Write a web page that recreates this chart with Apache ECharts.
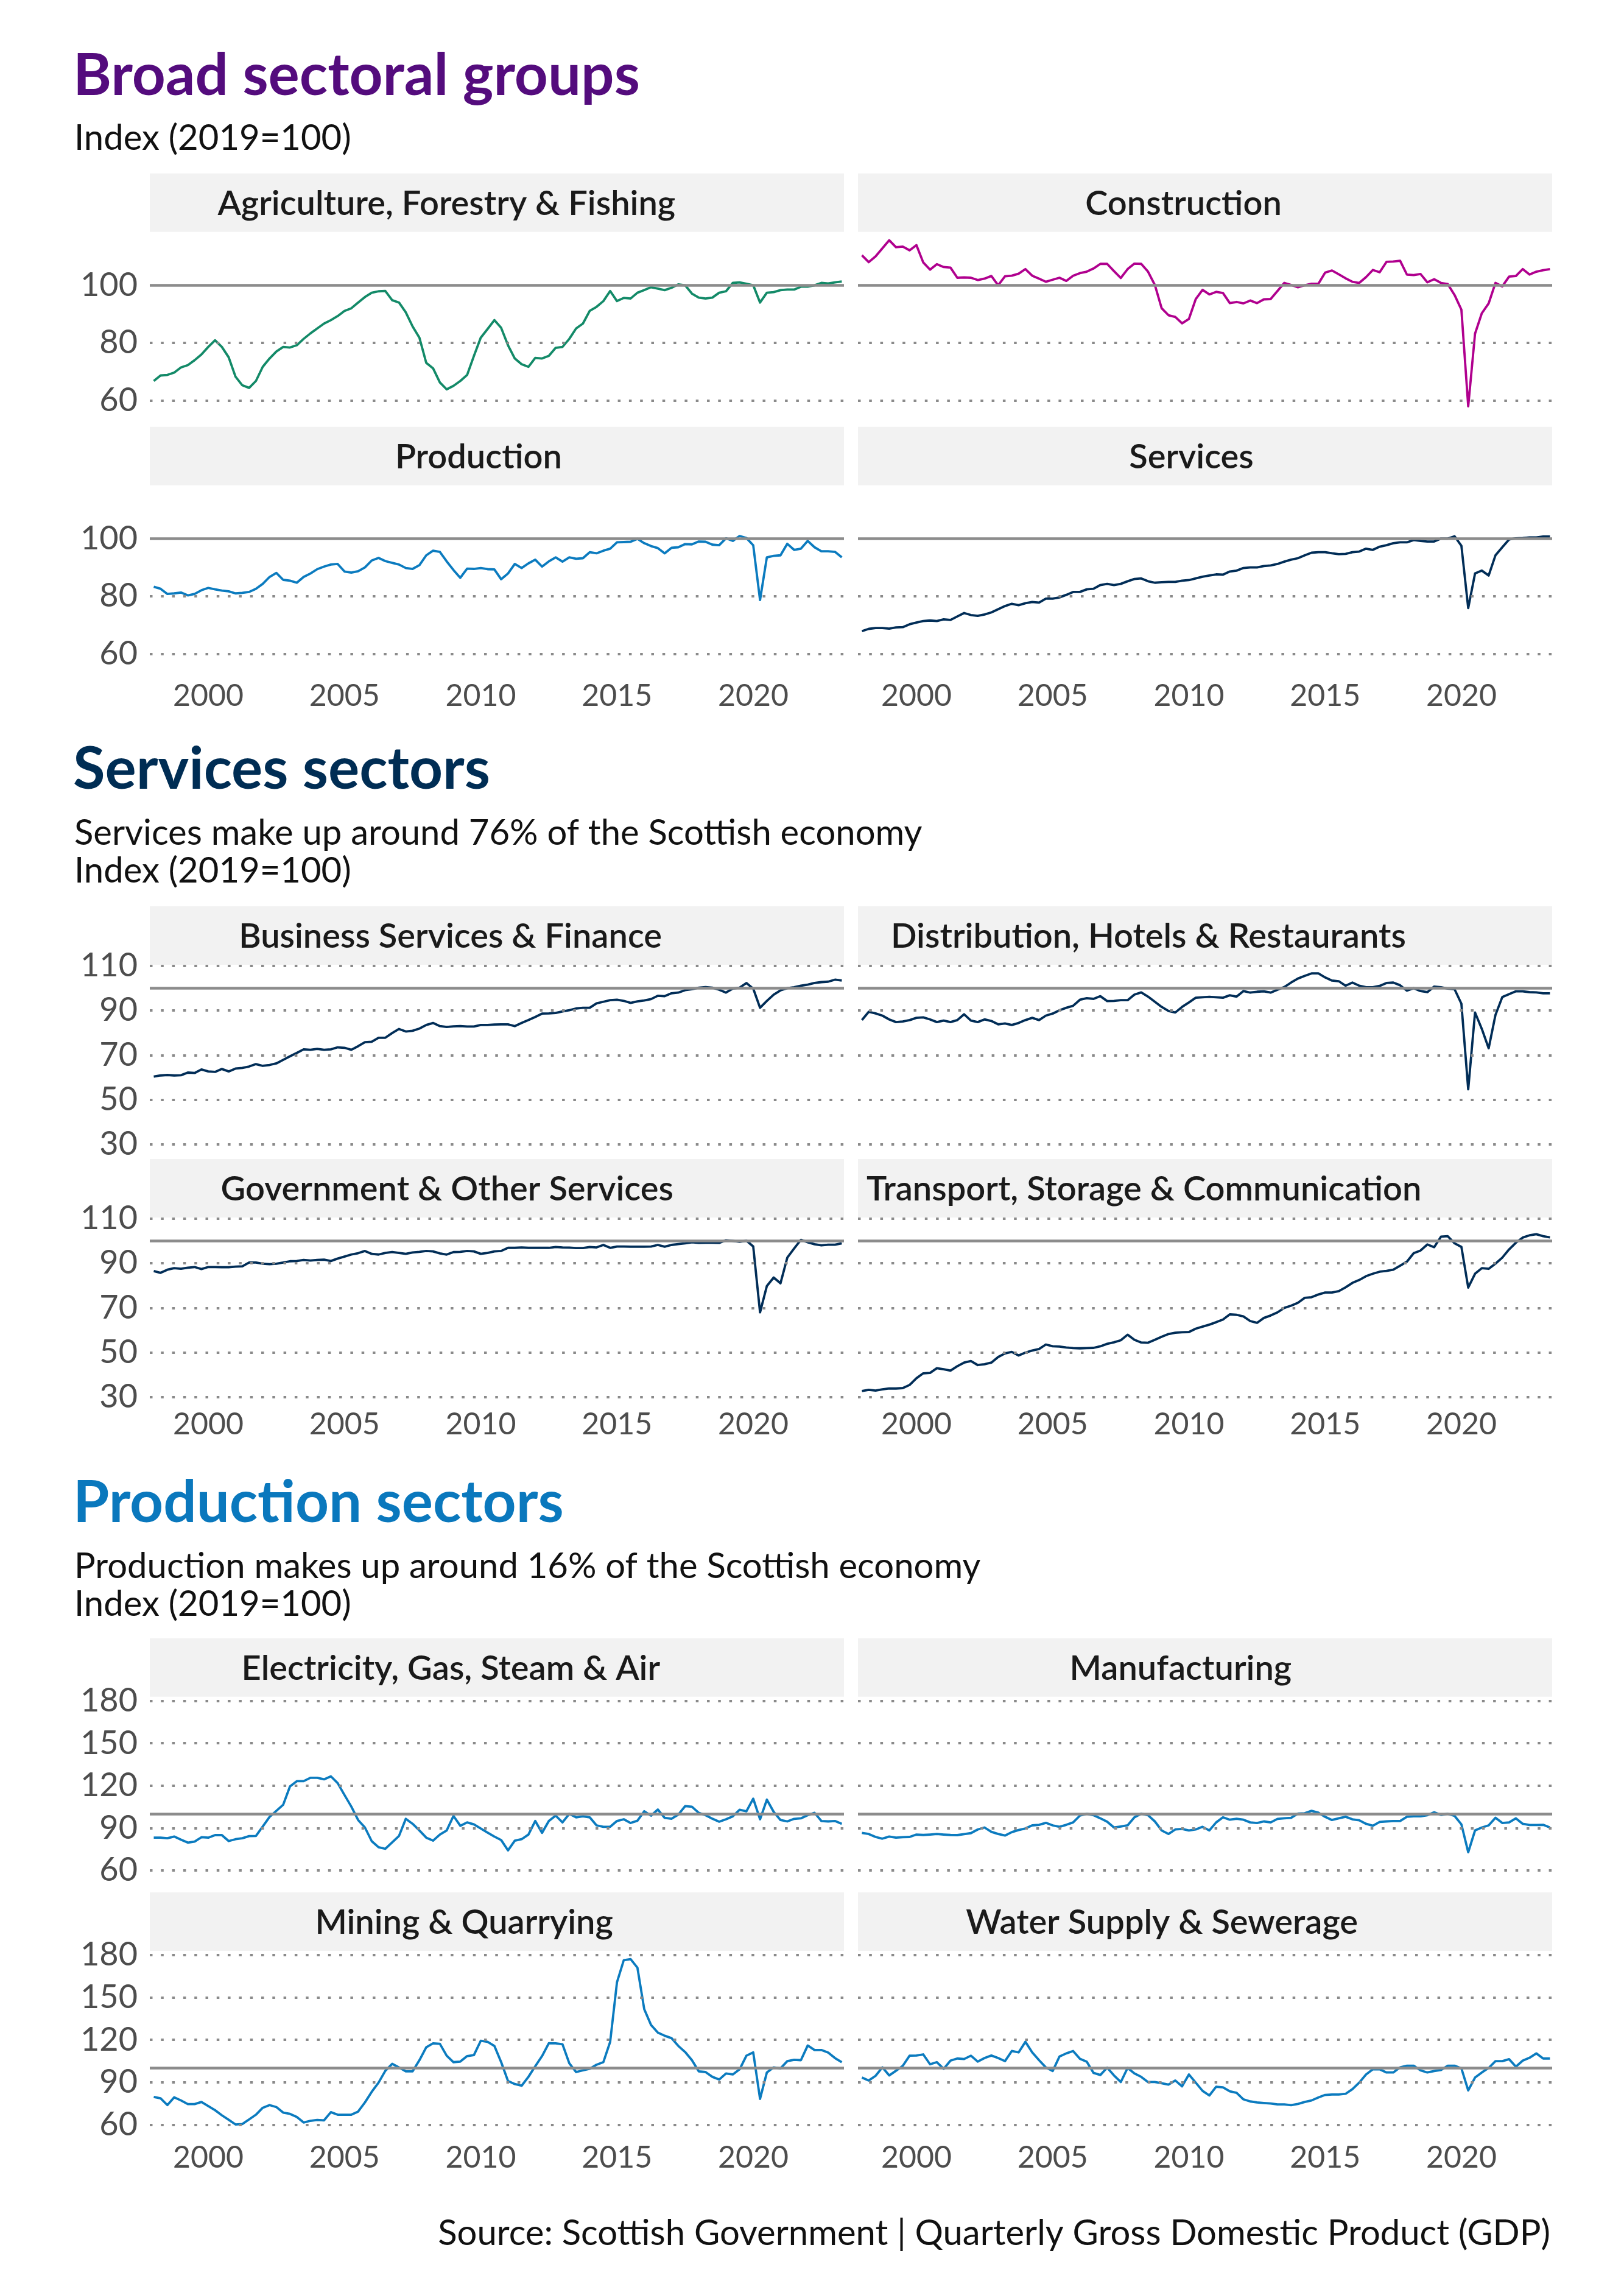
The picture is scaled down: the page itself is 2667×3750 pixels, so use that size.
<!DOCTYPE html>
<html><head><meta charset="utf-8">
<script src="https://cdn.jsdelivr.net/npm/echarts@6/dist/echarts.min.js"></script>
<style>html,body{margin:0;padding:0;background:#fff}#chart{width:2667px;height:3750px}</style>
</head><body><div id="chart"></div>
<script>
// ---------- DATA (quarterly, 1998 Q1 - 2023 Q2, index 2019=100) ----------
const startYear = 1998;
const nQuarters = 102;
const quarters = [];
for (let i = 0; i < nQuarters; i++) quarters.push(startYear + i / 4);
const yearTicks = [2000, 2005, 2010, 2015, 2020];

const agriculture = [66.8,68.7,68.9,69.7,71.5,72.3,74,76,78.6,80.9,78.6,75,68.3,65.3,64.4,66.8,71.7,74.6,77,78.6,78.4,79.2,81.4,83.3,85,86.7,87.9,89.3,91.1,92,94,95.9,97.4,97.9,98,94.8,94,90.6,85.7,81.8,73.1,71.2,66.3,63.9,65.1,66.8,68.9,75.5,81.8,84.8,87.9,85.2,79.2,74.6,72.6,71.7,74.8,74.6,75.5,78.3,78.6,81.4,85,86.7,91.1,92.5,94.5,98,94.5,95.6,95.4,97.4,98.3,99.3,98.8,98.3,99.1,100.3,100,97.1,95.7,95.4,95.7,97.4,97.9,100.8,101,100.5,100,94,97.4,97.6,98.3,98.5,98.5,99.5,99.5,100,100.8,100.6,101,101.3];
const construction = [110.4,108,110,112.8,115.6,113.2,113.4,112.1,113.9,107.9,105.4,107.3,106.3,106.1,102.6,102.7,102.6,101.8,102.3,103.2,100,103.1,103.3,104,105.6,103.3,102.3,101.2,101.9,102.6,101.5,103.3,104.2,104.7,105.8,107.4,107.4,104.9,102.5,105.6,107.5,107.4,104.7,100.1,92,89.6,89,86.8,88.3,95.2,98.4,96.8,97.7,97.3,93.8,94.2,93.7,94.7,93.8,95.1,95.2,98,100.8,100.1,99.3,100,100.5,100.5,104.4,105.1,103.8,102.4,101.2,100.8,102.8,105.3,104.5,108.1,108.2,108.5,103.7,103.5,103.9,101,102.1,100.8,100.4,96.6,91.5,58,83.2,90.3,93.7,100.8,99.6,103,103.2,105.6,103.7,104.7,105.2,105.6];
const production = [83.3,82.6,80.8,81,81.3,80.3,80.8,82.1,82.9,82.4,82,81.7,81,81.2,81.5,82.6,84.3,86.7,88.1,85.7,85.4,84.7,86.7,87.9,89.4,90.3,91,91.2,88.6,88.2,88.7,90,92.4,93.3,92.2,91.6,91,89.8,89.5,90.8,94.2,95.8,95.4,92.1,89.1,86.4,89.6,89.5,89.8,89.4,89.3,85.9,87.9,91.2,89.8,91.4,92.7,90.3,92.1,93.5,92,93.5,93,93.2,95.3,94.9,95.8,96.5,98.7,98.8,98.9,99.9,98.4,97.4,96.7,94.9,96.8,97,98.1,98,99,98.9,97.9,97.7,100.1,99.2,100.9,100.2,97.7,78.7,93.5,94,94.2,98.2,96.1,96.5,99.2,97,95.6,95.6,95.4,93.5];
const services = [67.9,68.7,69,69,68.8,69.2,69.3,70.3,70.9,71.4,71.6,71.4,72,71.8,73,74.2,73.5,73.2,73.7,74.4,75.5,76.6,77.4,76.9,77.6,78,77.8,79.2,79.2,79.6,80.5,81.5,81.5,82.4,82.6,83.9,84.3,83.9,84.3,85.2,86,86.2,85.2,84.7,84.9,85,85,85.4,85.6,86.2,86.8,87.2,87.6,87.5,88.6,88.9,89.8,90,90,90.5,90.7,91.2,92,92.7,93.2,94.2,95.1,95.3,95.3,94.9,94.6,94.7,95.3,95.5,96.5,96.1,97.2,97.7,98.4,98.7,98.7,99.5,99.2,99,99,100,100,100.8,97.5,75.9,87.9,88.9,87.2,94.2,97,99.7,100.1,100.2,100.4,100.4,100.7,100.7];
const businessServicesFinance = [60.4,60.9,61.1,60.9,61,62.2,62,63.6,62.7,62.5,63.8,62.7,64,64.3,64.9,66,65.2,65.6,66.3,67.9,69.5,71,72.6,72.4,72.8,72.4,72.6,73.5,73.3,72.4,74,75.8,76,77.8,77.8,79.9,81.7,80.6,80.9,81.9,83.5,84.4,83,82.6,82.9,83,82.8,82.8,83.5,83.5,83.7,83.8,83.8,83,84.4,85.7,87.1,88.6,88.7,88.9,89.6,90.1,90.9,91.2,91.2,93.2,93.9,94.6,94.8,94.3,93.4,94.1,94.5,95.1,96.6,96.4,97.7,98,99.1,99.5,100.2,100.5,100.2,99.3,98,99.8,100.2,102.3,99.8,91.2,94.3,97.1,99,100,100.4,101.1,101.6,102.3,102.7,102.9,103.8,103.4];
const distributionHotelsRestaurants = [85.7,89.4,88.7,87.7,86,84.8,85.1,85.7,86.7,86.9,86,84.8,85.5,84.8,85.7,88.3,85.5,84.8,86,85.3,83.8,84.2,83.5,84.4,85.7,86.7,85.7,87.7,88.6,90.1,91.2,92.1,94.8,95.5,95.2,96.4,94.2,94.3,94.6,94.6,97.1,98.1,96.2,93.9,91.6,89.8,89.1,91.6,93.6,95.7,95.9,96.1,95.9,95.7,96.8,96.2,98.7,98,98.4,98.6,98,99.3,100.5,102.5,104.3,105.5,106.6,106.6,104.8,103.4,103.1,101.1,102.5,101.1,100.4,100.4,101,102.3,102.5,101.3,98.9,100,98.7,98.2,100.7,100.4,99.8,99.5,93,54.7,89.1,81.7,73.1,88,96,97.3,98.6,98.6,98.2,98.1,97.7,97.7];
const governmentOtherServices = [86.5,85.7,87.1,87.8,87.5,88,88.3,87.4,88.3,88.3,88.2,88.2,88.5,88.6,90.3,90.3,89.8,89.6,89.8,90.3,90.9,91,91.5,91.2,91.5,91.6,91,92.1,93,93.9,94.5,95.5,94.2,93.9,94.6,95,94.6,94.2,94.8,95.1,95.5,95.3,94.4,93.9,95,95.1,95.5,95.3,94.2,94.6,95.3,95.5,96.9,96.9,97.1,96.9,96.9,96.9,96.9,97.3,97.1,97,96.8,96.8,97.3,97.1,98.2,96.9,97.5,97.5,97.4,97.4,97.4,97.5,98.2,97.4,98.2,98.6,98.9,99.4,99.1,99.2,99.2,99.1,100.3,100,99.6,100.1,97.5,68,79.8,83.6,81,92.5,96.6,100.5,99.4,98.5,98,98.3,98.3,98.9];
const transportStorageCommunication = [32.8,33.3,33,33.5,33.9,33.9,34.1,35.5,38.5,40.7,40.9,43,42.5,41.9,43.9,45.5,46.2,44.4,44.8,45.5,48,49.6,50.3,48.7,50,50.9,51.6,53.6,52.8,52.7,52.3,52,51.9,52,52.1,52.8,53.9,54.6,55.5,58,55.7,54.5,54.4,55.7,57.1,58.3,58.9,59.1,59.2,60.7,61.6,62.5,63.6,64.8,67.1,66.9,66.2,64.1,63.3,65.5,66.6,68,70,71,72.3,74.5,74.8,76,76.9,76.9,77.5,79.2,81.2,82.5,84.2,85.3,86.2,86.6,87.1,88.9,90.7,94.5,95.7,98.4,97.2,101.9,102.1,98.9,97.3,79.1,85.3,87.8,87.5,89.8,92.5,96.2,99.2,101.5,102.5,103,102.1,101.6];
const electricityGasSteamAir = [83.2,83.2,82.8,84,81.8,79.7,80.4,83.5,83.2,85,85,80.8,82.1,82.8,84.3,84.4,91.1,97.9,102.2,106.5,119.5,123.2,123.2,125.6,125.6,124.5,126.6,121.8,113.4,105.2,95.7,90.4,80.7,76.4,75.3,79.9,84.4,96.5,93,88.3,83.2,81.1,85.4,88.3,98.6,91.6,94,92.6,89.7,86.8,84,81.5,74.2,81.1,82.1,85.4,95,86.6,95,98.8,94,100.1,97.6,98.3,97.6,91.9,90.9,90.9,95,96.2,93.6,95.2,101.9,98.8,103.1,97.2,96.6,99.5,105.5,105.1,100.8,99.1,96.6,94.5,96.2,98.3,102.9,101.9,110.8,96.2,110.1,101.5,95.7,94.7,96.5,96.9,99.1,100.8,95,94.7,95,93];
const manufacturing = [86.6,85.8,83.7,82.5,84,83.2,83.5,83.7,85.4,85.1,85.4,85.8,85.4,85.1,85,85.7,86.4,89,90.4,87.3,85.8,84.7,87.1,88.6,89.7,91.9,92.3,93.7,91.9,90.9,92.3,94,98.8,100.1,99.1,96.9,94.5,90.4,91.1,91.9,97.6,100.2,99.1,94.7,88.3,85.8,89,89.4,88.3,89,90.9,88.3,94,97.6,95.9,96.6,95.9,94,93.6,94.7,94,96.5,96.9,97.2,100.2,100.5,102.2,100.9,97.9,95.7,96.9,98,96.2,95.5,93,91.6,94.3,94.7,95,95,98,98.3,98.3,99.1,101.2,99.3,100.1,98.6,92.6,72.9,88.3,90.4,91.9,97.3,93.6,94,96.9,93,92.2,92.2,92.3,90.4];
const miningQuarrying = [79.6,78.6,73.8,79.3,77.1,74.5,74.5,76,73.1,70.2,66.6,63.4,60.1,60.4,63.7,67,71.9,73.8,72.4,68.5,67.6,65.4,61.5,62.7,63.3,63,68.8,67,67,67,69.2,75.7,83.2,89.7,98.1,103,100.5,97.7,97.7,105.6,114.7,117.5,117.2,108.8,104.2,104.6,108.5,109.2,119.3,118.6,115.7,104.2,90.9,88.7,87.5,93.8,101.3,108.5,117.6,117.5,116.9,103.4,97.2,98.4,99.5,102.4,104.2,118.6,160.8,176.4,177.1,171.1,141.7,130.5,125.1,122.9,121.2,115.7,111.4,105.6,97.7,97.2,93.8,91.9,96.2,95.5,99.1,108.8,111.1,78.2,96.9,100.5,99.8,104.9,105.9,105.6,116,112.8,112.8,111,107.1,104.2];
const waterSupplySewerage = [93.3,91.2,94.5,100.5,94.8,98.1,101.6,108.8,108.9,109.7,102.7,104.2,99.5,105.3,106.8,106.4,108.8,104.6,107.1,108.9,107.1,104.9,112.1,111.1,118.6,111.1,105.6,100.5,97.9,108.2,110.4,112.1,106.6,104.5,96.6,95.1,100.3,94.8,90.1,100.1,96.2,93.8,90.1,90.1,89.3,88.3,91.2,87.1,95.5,89.7,83.9,80.6,86.8,86.4,83.6,82.5,77.9,76.4,75.7,75.3,74.9,74.3,74.3,73.8,74.6,76,77.1,79.2,81,81.3,81.3,81.8,85.1,89.7,95.5,99.1,99.1,96.9,96.9,100.5,101.7,101.7,98.4,96.9,97.9,98.7,101.7,101.7,99.8,84.2,93.3,96.9,100.1,104.9,104.9,106.3,101,105.3,107.3,110.4,106.8,106.8];

// ---------- LAYOUT / STYLE ----------
const FONT = 'Lato, "Noto Sans", sans-serif';
const GREEN = '#138a68', MAGENTA = '#b0008e', BLUE = '#0b7bbf', NAVY = '#012d57';
const COLS = [{x: 246, w: 1140}, {x: 1409, w: 1140}];
const X_MIN = 1997.855, X_MAX = 2023.33;
const STRIP_H = 96;
const STRIP_FONT = '600 56px ' + FONT;
const sections = [
  {title: 'Broad sectoral groups', titleColor: '#540c7d', titleY: 125, sub: ['Index (2019=100)'], subY: [227],
   tops: [380.7, 796.7], h: 305.4, min: 54, max: 118.5, labels: [60, 80, 100], grid: [60, 80]},
  {title: 'Services sectors', titleColor: '#002d54', titleY: 1264, sub: ['Services make up around 76% of the Scottish economy', 'Index (2019=100)'], subY: [1368, 1430],
   tops: [1583.9, 1998.9], h: 298.8, min: 29, max: 110.5, labels: [30, 50, 70, 90, 110], grid: [30, 50, 70, 90, 110]},
  {title: 'Production sectors', titleColor: '#0a78bd', titleY: 2468, sub: ['Production makes up around 16% of the Scottish economy', 'Index (2019=100)'], subY: [2572, 2634],
   tops: [2785.7, 3203], h: 299.2, min: 54, max: 183, labels: [60, 90, 120, 150, 180], grid: [60, 90, 120, 150, 180]}
];
const panels = [
  {s: 0, r: 0, c: 0, name: 'Agriculture, Forestry & Fishing', data: agriculture, color: GREEN},
  {s: 0, r: 0, c: 1, name: 'Construction', data: construction, color: MAGENTA},
  {s: 0, r: 1, c: 0, name: 'Production', data: production, color: BLUE},
  {s: 0, r: 1, c: 1, name: 'Services', data: services, color: NAVY},
  {s: 1, r: 0, c: 0, name: 'Business Services & Finance', data: businessServicesFinance, color: NAVY},
  {s: 1, r: 0, c: 1, name: 'Distribution, Hotels & Restaurants', data: distributionHotelsRestaurants, color: NAVY},
  {s: 1, r: 1, c: 0, name: 'Government & Other Services', data: governmentOtherServices, color: NAVY},
  {s: 1, r: 1, c: 1, name: 'Transport, Storage & Communication', data: transportStorageCommunication, color: NAVY},
  {s: 2, r: 0, c: 0, name: 'Electricity, Gas, Steam & Air', data: electricityGasSteamAir, color: BLUE},
  {s: 2, r: 0, c: 1, name: 'Manufacturing', data: manufacturing, color: BLUE},
  {s: 2, r: 1, c: 0, name: 'Mining & Quarrying', data: miningQuarrying, color: BLUE},
  {s: 2, r: 1, c: 1, name: 'Water Supply & Sewerage', data: waterSupplySewerage, color: BLUE}
];

const measureCtx = document.createElement('canvas').getContext('2d');
measureCtx.font = STRIP_FONT;

const grids = [], xAxes = [], yAxes = [], series = [], graphics = [];

sections.forEach(sec => {
  graphics.push({type: 'text', x: 120, y: sec.titleY, silent: true,
    style: {text: sec.title, font: 'bold 96px ' + FONT, fill: sec.titleColor, align: 'left', verticalAlign: 'middle'}});
  sec.sub.forEach((t, i) => graphics.push({type: 'text', x: 122, y: sec.subY[i], silent: true,
    style: {text: t, font: '58px ' + FONT, fill: '#111111', align: 'left', verticalAlign: 'middle'}}));
});

panels.forEach((p, i) => {
  const sec = sections[p.s], col = COLS[p.c], top = sec.tops[p.r];
  grids.push({left: col.x, top: top, width: col.w, height: sec.h, containLabel: false});
  xAxes.push({gridIndex: i, type: 'value', min: X_MIN, max: X_MAX,
    axisLine: {show: false}, axisTick: {show: false}, splitLine: {show: false},
    axisLabel: {show: p.r === 1, customValues: yearTicks, formatter: v => String(v),
      fontSize: 50, fontFamily: FONT, color: '#4d4d4d', margin: 16}});
  yAxes.push({gridIndex: i, type: 'value', min: sec.min, max: sec.max,
    axisLine: {show: false}, axisTick: {show: false}, splitLine: {show: false},
    axisLabel: {show: p.c === 0, customValues: sec.labels, fontSize: 54, fontFamily: FONT, color: '#4d4d4d', margin: 20}});
  const pts = quarters.map((q, k) => [q, p.data[k]]);
  // reference / grid lines (drawn beneath the data)
  series.push({type: 'line', xAxisIndex: i, yAxisIndex: i, data: pts, z: 1, silent: true,
    showSymbol: false, lineStyle: {opacity: 0}, animation: false,
    markLine: {silent: true, symbol: ['none', 'none'], label: {show: false}, animation: false,
      data: sec.grid.map(v => ({yAxis: v, lineStyle: {type: [4.5, 13.8], width: 4, color: '#8a8a8a'}}))
        .concat([{yAxis: 100, lineStyle: {type: 'solid', width: 4.5, color: '#8c8c8c'}}])}});
  series.push({type: 'line', name: p.name, xAxisIndex: i, yAxisIndex: i, data: pts, z: 3,
    showSymbol: false, animation: false, lineStyle: {color: p.color, width: 3.8, join: 'round'}, itemStyle: {color: p.color}});
  // facet strip (label sits slightly left of centre, as in the original)
  graphics.push({type: 'rect', silent: true, shape: {x: col.x, y: top - STRIP_H, width: col.w, height: STRIP_H},
    style: {fill: '#f2f2f2'}});
  const tw = measureCtx.measureText(p.name).width;
  graphics.push({type: 'text', silent: true, x: col.x + col.w / 2 - 0.11 * tw, y: top - STRIP_H / 2 + 2,
    style: {text: p.name, font: STRIP_FONT, fill: '#1a1a1a', align: 'center', verticalAlign: 'middle'}});
});

graphics.push({type: 'text', silent: true, x: 2546, y: 3667,
  style: {text: 'Source: Scottish Government | Quarterly Gross Domestic Product (GDP)', font: '58px ' + FONT,
    fill: '#111111', align: 'right', verticalAlign: 'middle'}});

const chart = echarts.init(document.getElementById('chart'), null, {renderer: 'canvas'});
chart.setOption({
  backgroundColor: '#ffffff',
  animation: false,
  grid: grids, xAxis: xAxes, yAxis: yAxes, series: series,
  graphic: {elements: graphics}
});
</script></body></html>
